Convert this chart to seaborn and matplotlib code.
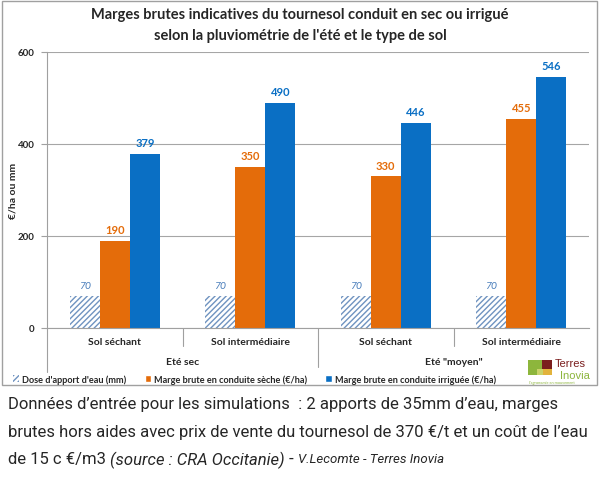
import numpy as np
import pandas as pd
import matplotlib
matplotlib.use('Agg')
import matplotlib.pyplot as plt
import seaborn as sns
from matplotlib.patches import Rectangle, Patch

# data
sols = ['Sol séchant', 'Sol intermédiaire', 'Sol séchant', 'Sol intermédiaire']
etes = ['Eté sec', 'Eté "moyen"']
series = ["Dose d'apport d'eau (mm)",
          'Marge brute en conduite sèche (€/ha)',
          'Marge brute en conduite irriguée (€/ha)']
dose = [70, 70, 70, 70]
marge_seche = [190, 350, 330, 455]
marge_irriguee = [379, 490, 446, 546]
yticks = [0, 200, 400, 600]

colors = ['white', '#E46C0A', '#0A6FC4']
label_colors = ['#4A7EBB', '#E46C0A', '#0A6FC4']
hatch_col = '#6F93C0'

groups = ['g%d' % i for i in range(len(sols))]
df = pd.DataFrame({
    'groupe': groups * 3,
    'serie': np.repeat(series, len(groups)),
    'valeur': dose + marge_seche + marge_irriguee,
})

sns.set_style('white')
plt.rcParams['font.family'] = ['Lato', 'DejaVu Sans']
plt.rcParams['hatch.color'] = hatch_col
plt.rcParams['hatch.linewidth'] = 1.0

fig = plt.figure(figsize=(6, 4.85), dpi=100)
ax = fig.add_axes([47 / 600, 1 - 329 / 485, 542 / 600, 276 / 485])

sns.barplot(data=df, x='groupe', y='valeur', hue='serie', order=groups,
            hue_order=series, palette=colors, width=0.667, saturation=1,
            linewidth=0, ax=ax, legend=False)

for p in ax.containers[0]:
    p.set_hatch('//////')
    p.set_edgecolor(hatch_col)
    p.set_linewidth(0)

ax.bar_label(ax.containers[0], padding=4, fontsize=7.5, style='italic',
             color=label_colors[0])
ax.bar_label(ax.containers[1], padding=4, fontsize=8, fontweight='bold',
             color=label_colors[1])
ax.bar_label(ax.containers[2], padding=4, fontsize=8, fontweight='bold',
             color=label_colors[2])

ax.set_ylim(0, 600)
ax.set_xlim(-0.5, len(groups) - 0.5)
ax.set_yticks(yticks)
ax.set_yticklabels([str(v) for v in yticks], fontsize=7, fontweight='bold')
ax.tick_params(axis='y', length=4, color='#A0A0A0', pad=5, left=True)
ax.yaxis.grid(True, color='#A6A6A6', linewidth=0.8)
ax.set_axisbelow(True)
for s in ['top', 'right']:
    ax.spines[s].set_visible(False)
ax.spines['left'].set_color('#A0A0A0')
ax.spines['bottom'].set_color('#A0A0A0')
ax.set_xticks([])
ax.set_xlabel('')
ax.set_ylabel('€/ha ou mm', fontsize=7.5, fontweight='bold')
ax.yaxis.set_label_coords(-29 / 542, 0.5)

# multi-level category axis
tr = ax.get_xaxis_transform()
for i, s in enumerate(sols):
    ax.text(i, -0.05, s, transform=tr, ha='center', va='center',
            fontsize=7.5, fontweight='bold')
for j, e in enumerate(etes):
    ax.text(2 * j + 0.5, -0.12, e, transform=tr, ha='center', va='center',
            fontsize=7.5, fontweight='bold')
for xb, yb in [(-0.5, -0.16), (0.5, -0.065), (1.5, -0.14), (2.5, -0.065)]:
    ax.plot([xb, xb], [0, yb], transform=tr, color='#A0A0A0', lw=0.8,
            clip_on=False)

handles = [Patch(facecolor='white', hatch='//////', edgecolor=hatch_col, lw=0),
           Patch(facecolor=colors[1]), Patch(facecolor=colors[2])]
fig.legend(handles, series, loc='center left', bbox_to_anchor=(0.008, 1 - 380 / 485),
           ncol=3, frameon=False, handlelength=0.7,
           handleheight=0.7, handletextpad=0.3, columnspacing=2.0,
           prop={'weight': 'bold', 'size': 6.6})

fig.text(0.5, 1 - 15 / 485, 'Marges brutes indicatives du tournesol conduit en sec ou irrigué',
         ha='center', va='center', fontsize=10.5, fontweight='bold')
fig.text(0.5, 1 - 36 / 485, "selon la pluviométrie de l'été et le type de sol",
         ha='center', va='center', fontsize=10.5, fontweight='bold')

# chart frame
fig.patches.append(Rectangle((2 / 600, 1 - 386 / 485), 595 / 600, 384 / 485,
                             transform=fig.transFigure, fill=False,
                             edgecolor='#A0A0A0', lw=1))

# logo
lx, ly = 528, 361
for (dx, dy, w, h, c) in [(0, 0, 14, 9, '#8DB63C'), (14, 0, 10, 9, '#7B1E1E'),
                          (0, 9, 9, 6, '#8DB63C'), (9, 9, 6, 6, '#C9D36A'),
                          (15, 9, 9, 6, '#E2B33C')]:
    fig.patches.append(Rectangle(((lx + dx) / 600, 1 - (ly + dy + h) / 485), w / 600, h / 485,
                                 transform=fig.transFigure, color=c, lw=0))
fig.text(555 / 600, 1 - 364 / 485, 'Terres', fontsize=8, color='#7B1E1E',
         ha='left', va='center', family='Liberation Sans')
fig.text(590 / 600, 1 - 376 / 485, 'Inovia', fontsize=8, color='#8DB63C',
         ha='right', va='center', family='Liberation Sans')
fig.text(529 / 600, 1 - 383.5 / 485, "l'agronomie en mouvement", fontsize=2.8,
         color='#8DB63C', ha='left', va='center')

# note below the chart
bottom_font = ['Roboto', 'DejaVu Sans']
lines = ["Données d’entrée pour les simulations  : 2 apports de 35mm d’eau, marges",
         "brutes hors aides avec prix de vente du tournesol de 370 €/t et un coût de l’eau"]
fig.canvas.draw()
r = fig.canvas.get_renderer()
probe = fig.text(0, 0, lines[1], fontsize=14, family=bottom_font)
w = probe.get_window_extent(r).width
probe.remove()
fs = 14 * 582 / w
fig.text(8 / 600, 1 - 405 / 485, lines[0], fontsize=fs, family=bottom_font, va='center')
fig.text(8 / 600, 1 - 433 / 485, lines[1], fontsize=fs, family=bottom_font, va='center')
t1 = fig.text(8 / 600, 1 - 460 / 485, "de 15 c €/m3 ", fontsize=fs,
              family=bottom_font, va='center')
x0 = t1.get_window_extent(r).x1
t2 = fig.text(x0 / 600, 1 - 460 / 485, "(source : CRA Occitanie)", fontsize=fs,
              family=bottom_font, va='center', style='italic')
x1 = t2.get_window_extent(r).x1
t3 = fig.text(x1 / 600, 1 - 460 / 485, " - ", fontsize=fs, family=bottom_font,
              va='center')
x2 = t3.get_window_extent(r).x1
fig.text(x2 / 600, 1 - 460 / 485, "V.Lecomte - Terres Inovia", fontsize=fs * 0.8,
         family=bottom_font, va='center', style='italic')

fig.savefig('out.png', dpi=100)
